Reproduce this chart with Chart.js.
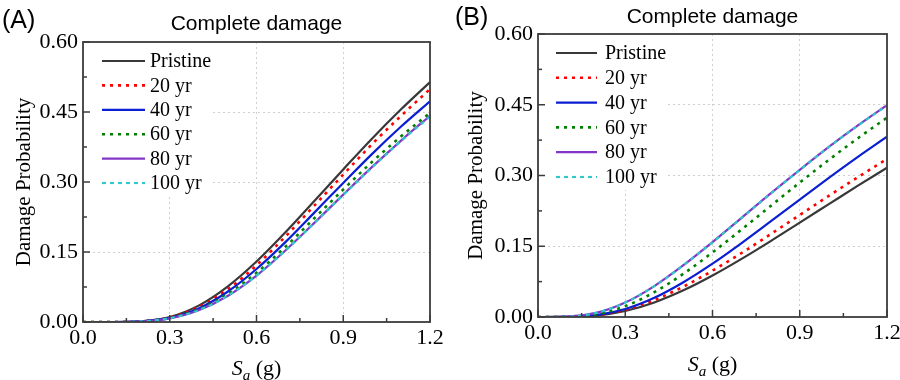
<!DOCTYPE html>
<html><head><meta charset="utf-8">
<script src="https://cdn.jsdelivr.net/npm/chart.js@4.4.1/dist/chart.umd.min.js"></script>
<style>
html,body{margin:0;padding:0;background:#fff;}
#wrap{position:relative;width:900px;height:380px;overflow:hidden;background:#fff;}
.pane{position:absolute;top:0;width:450px;height:380px;}
</style></head><body>
<div id="wrap">
<div class="pane" style="left:0"><canvas id="cA" width="450" height="380"></canvas></div>
<div class="pane" style="left:450px"><canvas id="cB" width="450" height="380"></canvas></div>
</div>
<script>
// ---- data ----
const sa = [0, 0.1, 0.2, 0.3, 0.4, 0.5, 0.6, 0.7, 0.8, 0.9, 1.0, 1.1, 1.2];
const seriesNames = ['Pristine', '20 yr', '40 yr', '60 yr', '80 yr', '100 yr'];

// Panel (A)
const aPristine = [0, 0, 0.0015, 0.0108, 0.0351, 0.0758, 0.1295, 0.1922, 0.2594, 0.3269, 0.3933, 0.4558, 0.514];
const a20yr     = [0, 0, 0.0014, 0.0098, 0.0321, 0.0698, 0.1215, 0.1832, 0.2494, 0.3159, 0.3813, 0.4418, 0.499];
const a40yr     = [0, 0, 0.0013, 0.0088, 0.0291, 0.0648, 0.1135, 0.1712, 0.2344, 0.2979, 0.3603, 0.4188, 0.473];
const a60yr     = [0, 0, 0.0013, 0.0088, 0.0271, 0.0598, 0.1055, 0.1612, 0.2224, 0.2839, 0.3433, 0.3978, 0.448];
const a80yr     = [0, 0, 0.0012, 0.0078, 0.0251, 0.0558, 0.0995, 0.1532, 0.2124, 0.2729, 0.3323, 0.3888, 0.442];
const a100yr    = [0, 0, 0.0012, 0.0080, 0.0253, 0.0560, 0.0997, 0.1530, 0.2120, 0.2722, 0.3313, 0.3878, 0.440];

// Panel (B)
const bPristine = [0, 0.0001, 0.0030, 0.0128, 0.0309, 0.0565, 0.0880, 0.1233, 0.1610, 0.2002, 0.2393, 0.2784, 0.3164];
const b20yr     = [0, 0.0002, 0.0039, 0.0155, 0.0360, 0.0644, 0.0983, 0.1357, 0.1757, 0.2163, 0.2569, 0.2965, 0.3352];
const b40yr     = [0, 0.0002, 0.0040, 0.0169, 0.0407, 0.0737, 0.1130, 0.1567, 0.2027, 0.2491, 0.2950, 0.3395, 0.3822];
const b60yr     = [0, 0.0003, 0.0059, 0.0230, 0.0526, 0.0917, 0.1369, 0.1855, 0.2355, 0.2850, 0.3331, 0.3791, 0.4226];
const b80yr     = [0, 0.0006, 0.0087, 0.0307, 0.0656, 0.1098, 0.1587, 0.2102, 0.2620, 0.3121, 0.3607, 0.4063, 0.4491];
const b100yr    = [0, 0.0006, 0.0086, 0.0305, 0.0654, 0.1095, 0.1584, 0.2099, 0.2616, 0.3117, 0.3603, 0.4058, 0.4486];

// ticks
const xMajor = [0, 0.3, 0.6, 0.9, 1.2];
const xMinor = [0.15, 0.45, 0.75, 1.05];
const yMajor = [0, 0.15, 0.30, 0.45, 0.60];
const yMinor = [0.075, 0.225, 0.375, 0.525];

// ---- styles ----
const styles = [
  {color: '#383838', dash: [], width: 2.2},
  {color: '#ff0000', dash: [3, 5], width: 2.6},
  {color: '#0a1ed2', dash: [], width: 2.2},
  {color: '#008000', dash: [3, 5], width: 2.6},
  {color: '#8236c8', dash: [], width: 2.2},
  {color: '#30c8c8', dash: [4, 4], width: 2.2}
];

const SERIF = "'Liberation Serif', 'Times New Roman', serif";
const SANS = "'Liberation Sans', Arial, sans-serif";

const decor = {
  id: 'decor',
  beforeDatasetsDraw(chart, args, o) {
    const {ctx, chartArea: a} = chart;
    ctx.save();
    ctx.fillStyle = '#ffffff';
    ctx.fillRect(a.left + 1, a.top + 1, o.boxW, o.boxH);
    ctx.restore();
  },
  afterDraw(chart, args, o) {
    const {ctx, chartArea: a} = chart;
    const xs = chart.scales.x, ys = chart.scales.y;
    ctx.save();
    ctx.strokeStyle = '#3c3c3c';
    ctx.lineWidth = 1.5;
    ctx.setLineDash([]);
    const seg = (x1, y1, x2, y2) => { ctx.beginPath(); ctx.moveTo(x1, y1); ctx.lineTo(x2, y2); ctx.stroke(); };
    xMajor.forEach(v => { const p = xs.getPixelForValue(v); seg(p, a.bottom, p, a.bottom - 7); });
    xMinor.forEach(v => { const p = xs.getPixelForValue(v); seg(p, a.bottom, p, a.bottom - 4); });
    yMajor.forEach(v => { const p = ys.getPixelForValue(v); seg(a.left, p, a.left + 7, p); });
    yMinor.forEach(v => { const p = ys.getPixelForValue(v); seg(a.left, p, a.left + 4, p); });
    ctx.lineWidth = 1.8;
    ctx.strokeRect(a.left, a.top, a.right - a.left, a.bottom - a.top);

    // legend
    ctx.textBaseline = 'middle';
    ctx.textAlign = 'left';
    ctx.font = '20px ' + SERIF;
    chart.data.datasets.forEach((ds, i) => {
      const y = a.top + o.legTop + i * o.legStep;
      ctx.strokeStyle = ds.borderColor;
      ctx.lineWidth = ds.borderWidth;
      ctx.setLineDash(ds.borderDash || []);
      seg(a.left + o.legX1, y, a.left + o.legX2, y);
      ctx.setLineDash([]);
      ctx.fillStyle = '#000';
      ctx.fillText(ds.label, a.left + o.legText, y + 1);
    });

    // title
    ctx.fillStyle = '#000';
    ctx.textBaseline = 'alphabetic';
    ctx.textAlign = 'center';
    ctx.font = '21px ' + SANS;
    ctx.fillText('Complete damage', (a.left + a.right) / 2, a.top - o.titleGap);

    // panel label
    ctx.textAlign = 'left';
    ctx.font = '25px ' + SANS;
    ctx.fillText(o.panel, o.panelX, o.panelY);

    // x axis title: S_a (g)
    const cx = (a.left + a.right) / 2;
    const by = a.bottom + o.xTitleGap;
    ctx.font = 'italic 22px ' + SERIF;
    const wS = ctx.measureText('S').width;
    ctx.font = 'italic 15px ' + SERIF;
    const wa = ctx.measureText('a').width;
    ctx.font = '22px ' + SERIF;
    const wg = ctx.measureText(' (g)').width;
    let x0 = cx - (wS + wa + wg) / 2;
    ctx.font = 'italic 22px ' + SERIF;
    ctx.fillText('S', x0, by);
    ctx.font = 'italic 15px ' + SERIF;
    ctx.fillText('a', x0 + wS, by + 5);
    ctx.font = '22px ' + SERIF;
    ctx.fillText(' (g)', x0 + wS + wa, by);

    // y axis title
    ctx.save();
    ctx.translate(a.left - o.yTitleGap, (a.top + a.bottom) / 2);
    ctx.rotate(-Math.PI / 2);
    ctx.textAlign = 'center';
    ctx.textBaseline = 'middle';
    ctx.font = '21px ' + SERIF;
    ctx.fillText('Damage Probability', 0, 0);
    ctx.restore();

    ctx.restore();
  }
};

function makePanel(id, arrays, g) {
  const datasets = arrays.map((arr, i) => ({
    label: seriesNames[i],
    data: sa.map((x, k) => ({x: x, y: arr[k]})),
    borderColor: styles[i].color,
    borderDash: styles[i].dash,
    borderWidth: styles[i].width,
    borderCapStyle: 'butt',
    pointRadius: 0,
    fill: false,
    cubicInterpolationMode: 'monotone',
    order: 6 - i
  }));
  return new Chart(document.getElementById(id), {
    type: 'line',
    data: {datasets},
    plugins: [decor],
    options: {
      responsive: false,
      animation: false,
      devicePixelRatio: 1,
      layout: {padding: {left: 0, right: g.padRight, top: g.padTop, bottom: 0}},
      plugins: {
        legend: {display: false},
        title: {display: false},
        tooltip: {enabled: false},
        decor: g.decor
      },
      scales: {
        x: {
          type: 'linear', min: 0, max: 1.2,
          afterBuildTicks: s => { s.ticks = xMajor.map(v => ({value: v})); },
          afterFit: s => { s.height = g.xHeight; s.paddingLeft = 0; s.paddingRight = 0; },
          ticks: {
            callback: v => Number(v).toFixed(1),
            font: {family: SERIF, size: 22}, color: '#000', padding: 3, maxRotation: 0, autoSkip: false
          },
          grid: {drawTicks: false, color: '#d0d0d0', lineWidth: 1},
          border: {display: false, dash: [2, 3]}
        },
        y: {
          type: 'linear', min: 0, max: 0.6,
          afterBuildTicks: s => { s.ticks = yMajor.map(v => ({value: v})); },
          afterFit: s => { s.width = g.yWidth; s.paddingTop = 0; s.paddingBottom = 0; },
          ticks: {
            callback: v => Number(v).toFixed(2),
            font: {family: SERIF, size: 22}, color: '#000', padding: 5, autoSkip: false
          },
          grid: {drawTicks: false, color: '#d0d0d0', lineWidth: 1},
          border: {display: false, dash: [2, 3]}
        }
      }
    }
  });
}

makePanel('cA', [aPristine, a20yr, a40yr, a60yr, a80yr, a100yr], {
  padRight: 20, padTop: 42, yWidth: 83, xHeight: 58,
  decor: {panel: '(A)', panelX: 2, panelY: 28, titleGap: 12, xTitleGap: 53, yTitleGap: 59,
          boxW: 129, boxH: 152, legTop: 19, legStep: 24.4, legX1: 19, legX2: 62, legText: 67}
});
makePanel('cB', [bPristine, b20yr, b40yr, b60yr, b80yr, b100yr], {
  padRight: 13, padTop: 34, yWidth: 88, xHeight: 63,
  decor: {panel: '(B)', panelX: 5, panelY: 25, titleGap: 11, xTitleGap: 54, yTitleGap: 62,
          boxW: 129, boxH: 155, legTop: 19, legStep: 24.8, legX1: 18, legX2: 59, legText: 67}
});
</script>
</body></html>
